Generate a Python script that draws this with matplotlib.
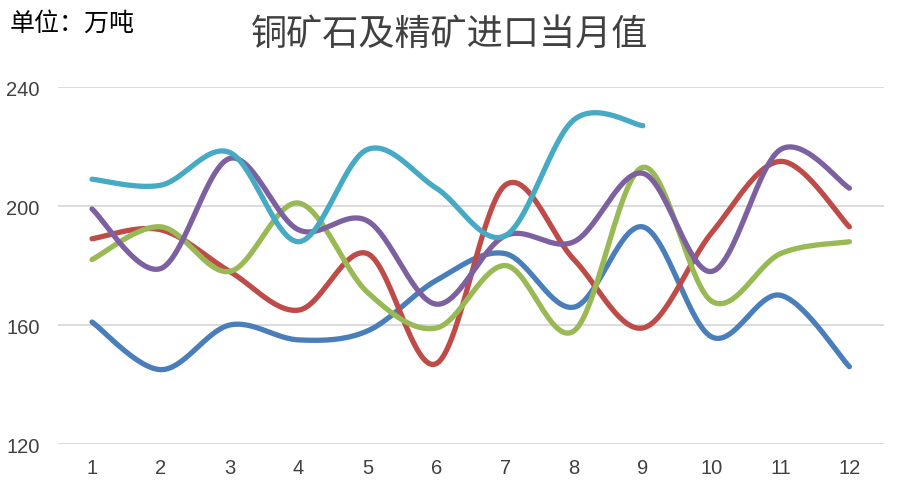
import numpy as np
import matplotlib.pyplot as plt

plt.rcParams['font.family'] = ['Noto Sans CJK SC', 'DejaVu Sans']

months = [1, 2, 3, 4, 5, 6, 7, 8, 9, 10, 11, 12]
blue = [161, 145, 160, 155, 158, 175, 184, 166, 193, 156, 170, 146]
red = [189, 192, 178, 165, 184, 147, 207, 182, 159, 191, 215, 193]
green = [182, 193, 178, 201, 171, 159, 180, 158, 213, 168, 184, 188]
purple = [199, 179, 216, 192, 195, 167, 190, 188, 211, 178, 219, 206]
cyan = [209, 207, 218, 188, 219, 206, 190, 229, 227]

colors = ['#4A7EBB', '#BE4B48', '#98B954', '#7D60A0', '#46AAC5']


def smooth(xs, ys, n=30):
    # Excel-style smoothed line: cubic bezier with catmull-rom control points
    xs = np.asarray(xs, float)
    ys = np.asarray(ys, float)
    px = np.concatenate([[xs[0]], xs, [xs[-1]]])
    py = np.concatenate([[ys[0]], ys, [ys[-1]]])
    outx, outy = [], []
    t = np.linspace(0, 1, n)
    for i in range(1, len(px) - 2):
        x0, y0 = px[i], py[i]
        x3, y3 = px[i + 1], py[i + 1]
        x1 = x0 + (px[i + 1] - px[i - 1]) / 6
        y1 = y0 + (py[i + 1] - py[i - 1]) / 6
        x2 = x3 - (px[i + 2] - px[i]) / 6
        y2 = y3 - (py[i + 2] - py[i]) / 6
        bx = (1 - t) ** 3 * x0 + 3 * (1 - t) ** 2 * t * x1 + 3 * (1 - t) * t ** 2 * x2 + t ** 3 * x3
        by = (1 - t) ** 3 * y0 + 3 * (1 - t) ** 2 * t * y1 + 3 * (1 - t) * t ** 2 * y2 + t ** 3 * y3
        outx.extend(bx)
        outy.extend(by)
    return outx, outy


fig = plt.figure(figsize=(9, 5.02), dpi=100)
ax = fig.add_axes([0.064, 0.1135, 0.918, 0.7112])

for ys, c in zip([blue, red, green, purple, cyan], colors):
    sx, sy = smooth(months[:len(ys)], ys)
    ax.plot(sx, sy, color=c, lw=3.8, solid_capstyle='round', clip_on=False)

ax.set_xlim(0.5, 12.5)
ax.set_ylim(120, 240)
ax.set_yticks([120, 160, 200, 240])
ax.set_xticks(months)
ax.grid(axis='y', color='#D9D9D9', lw=1.3)
ax.set_axisbelow(True)
for s in ax.spines.values():
    s.set_visible(False)
ax.tick_params(length=0, labelsize=14.5, colors='#404040')
ax.tick_params(axis='x', pad=10)
ax.tick_params(axis='y', pad=13)
for lab in ax.get_xticklabels() + ax.get_yticklabels():
    lab.set_family(['Liberation Sans', 'DejaVu Sans'])

fig.text(0.5, 0.93, '铜矿石及精矿进口当月值', ha='center', va='center', fontsize=26, color='#404040')
fig.text(0.011, 0.952, '单位：万吨', ha='left', va='center', fontsize=18, color='black')

fig.savefig('out.png', dpi=100)
